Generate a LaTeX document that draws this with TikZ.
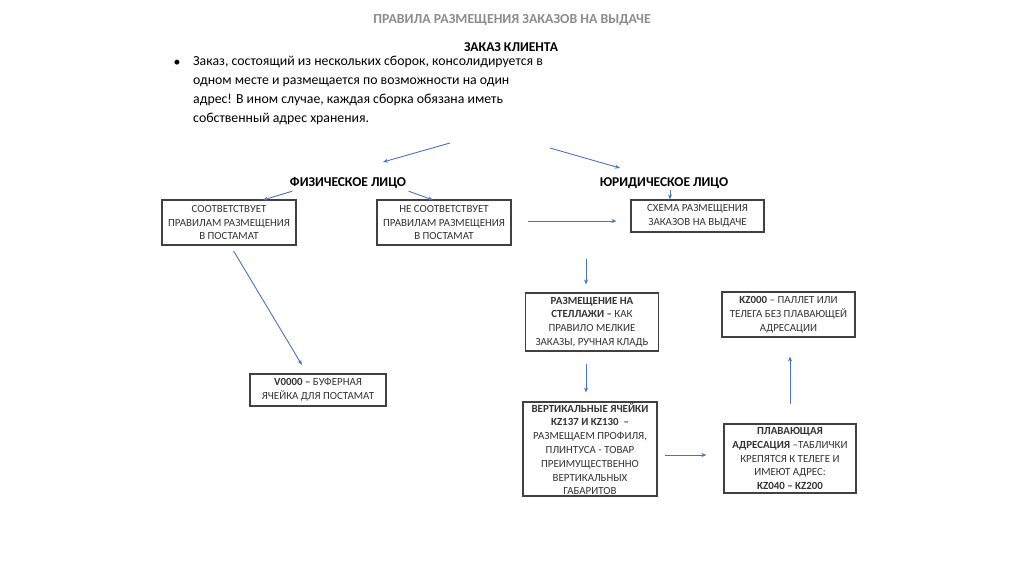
\documentclass[tikz,border=0pt]{standalone}
\usepackage{fontspec}
\setmainfont{Carlito}
\usepackage{xcolor}
\usetikzlibrary{calc,arrows.meta}
\definecolor{titlegray}{HTML}{8C8C8C}
\definecolor{boxline}{HTML}{404040}
\definecolor{boxtext}{HTML}{333333}
\definecolor{arrowblue}{HTML}{4A72C0}
\tikzset{
  route/.style={-{Stealth[length=5pt,width=4pt]}, draw=arrowblue, line width=0.9pt},
  box/.style={draw=boxline, line width=1.1pt, align=center, text=boxtext,
    inner sep=1pt, font=\fontsize{10.9}{13.8}\selectfont},
  head/.style={font=\fontsize{13.5}{15}\selectfont\bfseries, text=black},
  title/.style={font=\fontsize{13.8}{15}\selectfont\bfseries, text=titlegray},
  bul/.style={font=\fontsize{13.8}{19}\selectfont, text=black, align=left, inner sep=0pt}
}

\begin{document}
\begin{tikzpicture}[x=1pt,y=-1pt]
  \useasboundingbox (0,0) rectangle (1024,574);

  \node[title] (title) at (512,20) {ПРАВИЛА РАЗМЕЩЕНИЯ ЗАКАЗОВ НА ВЫДАЧЕ};
  \node[head] (client) at (511,47) {ЗАКАЗ КЛИЕНТА};

  % bullet text under the client order
  \node[bul] (dot) at (177,63) {\textbullet};
  \node[bul, anchor=north west] (note) at (193,56)
    {Заказ, состоящий из нескольких сборок, консолидируется в\\
     одном месте и размещается по возможности на один\\
     адрес! В ином случае, каждая сборка обязана иметь\\
     собственный адрес хранения.};

  \node[head] (fiz) at (348,183) {ФИЗИЧЕСКОЕ ЛИЦО};
  \node[head] (jur) at (664,183) {ЮРИДИЧЕСКОЕ ЛИЦО};

  % boxes
  \node[box, minimum width=134pt, minimum height=45pt] (prav) at (229,222.5)
    {СООТВЕТСТВУЕТ\\ПРАВИЛАМ РАЗМЕЩЕНИЯ\\В ПОСТАМАТ};
  \node[box, minimum width=134pt, minimum height=45pt] (neprav) at (444,222.5)
    {НЕ СООТВЕТСТВУЕТ\\ПРАВИЛАМ РАЗМЕЩЕНИЯ\\В ПОСТАМАТ};
  \node[box, minimum width=133pt, minimum height=32pt] (schema) at (697.5,216)
    {СХЕМА РАЗМЕЩЕНИЯ\\ЗАКАЗОВ НА ВЫДАЧЕ};
  \node[box, minimum width=136pt, minimum height=32pt] (buffer) at (318,390)
    {\textbf{V0000 –} БУФЕРНАЯ\\ЯЧЕЙКА ДЛЯ ПОСТАМАТ};
  \node[box, minimum width=133pt, minimum height=58pt] (stell) at (592,322)
    {\textbf{РАЗМЕЩЕНИЕ НА}\\\textbf{СТЕЛЛАЖИ –} КАК\\ПРАВИЛО МЕЛКИЕ\\ЗАКАЗЫ, РУЧНАЯ КЛАДЬ};
  \node[box, minimum width=134pt, minimum height=94pt] (vert) at (590,449)
    {\textbf{ВЕРТИКАЛЬНЫЕ ЯЧЕЙКИ}\\\textbf{KZ137 И KZ130\ \ –}\\РАЗМЕЩАЕМ ПРОФИЛЯ,\\ПЛИНТУСА - ТОВАР\\ПРЕИМУЩЕСТВЕННО\\ВЕРТИКАЛЬНЫХ\\ГАБАРИТОВ};
  \node[box, minimum width=132pt, minimum height=69pt] (float) at (790,458.5)
    {\textbf{ПЛАВАЮЩАЯ}\\\textbf{АДРЕСАЦИЯ} –ТАБЛИЧКИ\\КРЕПЯТСЯ К ТЕЛЕГЕ И\\ИМЕЮТ АДРЕС:\\\textbf{KZ040 – KZ200}};
  \node[box, minimum width=133pt, minimum height=45pt] (pallet) at (788.5,314.5)
    {\textbf{KZ000} – ПАЛЛЕТ ИЛИ\\ТЕЛЕГА БЕЗ ПЛАВАЮЩЕЙ\\АДРЕСАЦИИ};

  % free ends of the arrows below the client order
  \coordinate (cl1) at (450,143);
  \coordinate (cl2) at (550,148);
  \coordinate (fz) at (383,162);
  \coordinate (jr) at (620,168);

  \draw[route] (cl1) -- (fz);
  \draw[route] (cl2) -- (jr);

  \draw[route] (fiz.south west) ++(6,-1) -- (263,200);
  \draw[route] (fiz.south east) ++(-1,-1) -- (433,200);
  \draw[route] (670,190) -- (schema.north -| 670,0);

  \draw[route, shorten <=16pt, shorten >=14pt] (neprav.east |- 0,221) -- (schema.west |- 0,221);
  \draw[route, shorten <=7pt, shorten >=10pt] (230,245) -- (buffer.north -| 307,0);

  \draw[route, shorten <=26pt, shorten >=8pt] (schema.south -| 586,0) -- (stell.north -| 586,0);
  \draw[route, shorten <=12pt, shorten >=9pt] (stell.south -| 586,0) -- (vert.north -| 586,0);
  \draw[route, shorten <=7pt, shorten >=17pt] (vert.east |- 0,455) -- (float.west |- 0,455);
  \draw[route, shorten <=19pt, shorten >=19pt] (float.north -| 790,0) -- (pallet.south -| 790,0);
\end{tikzpicture}
\end{document}
